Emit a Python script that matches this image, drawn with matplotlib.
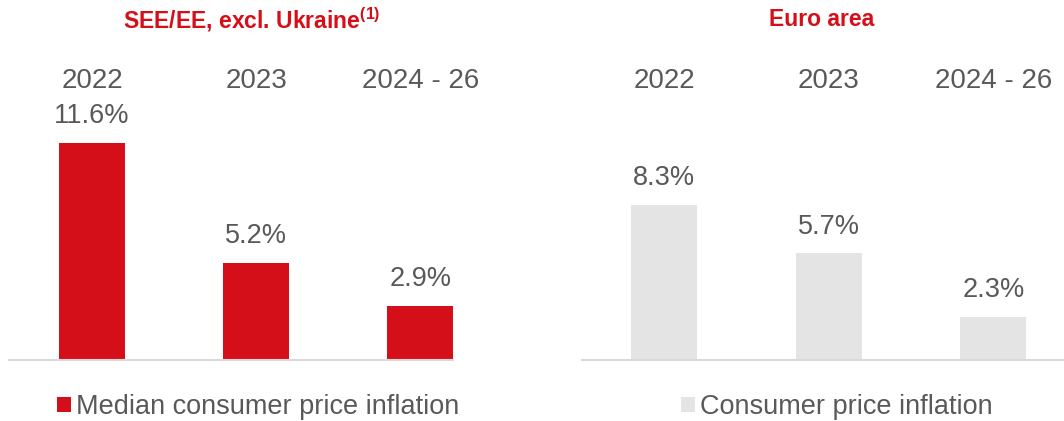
import numpy as np
import matplotlib.pyplot as plt

plt.rcParams['font.family'] = ['Liberation Sans', 'DejaVu Sans']
plt.rcParams['mathtext.fontset'] = 'custom'
plt.rcParams['mathtext.rm'] = 'Liberation Sans'
plt.rcParams['mathtext.bf'] = 'Liberation Sans:bold'

years = ['2022', '2023', '2024 - 26']
see_values = [11.6, 5.2, 2.9]
euro_values = [8.3, 5.7, 2.3]
titles = ['SEE/EE, excl. Ukraine$^{\\mathbf{(1)}}$', 'Euro area']
legend_labels = ['Median consumer price inflation', 'Consumer price inflation']

red = '#D50F19'
grey_bar = '#E4E4E4'
text_grey = '#595959'

W, H = 1064, 421
fig = plt.figure(figsize=(W / 100, H / 100), dpi=100)

def px_axes(x0, x1, ytop, ybot):
    return fig.add_axes([x0 / W, 1 - ybot / H, (x1 - x0) / W, (ybot - ytop) / H])

scale = 18.7  # px per percentage point
panels = [
    (see_values, red, 9, 453, -0.506, 2.2, titles[0], 252, legend_labels[0], 57),
    (euro_values, grey_bar, 582, 1064, -0.5, 2.43, titles[1], 822, legend_labels[1], 681),
]

x = np.arange(len(years))
for vals, col, x0, x1, lo, hi, title, tx, leg, lx in panels:
    ax = px_axes(x0, x1, 100, 360)
    bars = ax.bar(x, vals, width=0.4, color=col, label=leg)
    ax.set_xlim(lo, hi)
    ax.set_ylim(0, 260 / scale)
    ax.set_yticks([])
    ax.xaxis.set_ticks_position('top')
    ax.set_xticks(x, years, fontsize=20, color=text_grey)
    ax.tick_params(axis='x', length=0, pad=4)
    for s in ['top', 'left', 'right']:
        ax.spines[s].set_visible(False)
    ax.spines['bottom'].set_color('#D9D9D9')
    ax.spines['bottom'].set_linewidth(1.5)
    for b, v in zip(bars, vals):
        ax.annotate(f'{v:.1f}%', (b.get_x() + b.get_width() / 2, v),
                    xytext=(0, 10), textcoords='offset points',
                    ha='center', va='bottom', fontsize=19.5, color=text_grey)
    fig.text(tx / W, 1 - 20 / H, title, ha='center', va='center',
             fontsize=16.5, fontweight='bold', color=red)
    ax.legend(loc='lower left', bbox_to_anchor=(lx / W, 1 - 420 / H),
              bbox_transform=fig.transFigure, frameon=False, fontsize=19.5,
              labelcolor=text_grey, handlelength=0.5, handleheight=0.5,
              handletextpad=0.2, borderpad=0, borderaxespad=0)

fig.savefig('out.png', dpi=100)
